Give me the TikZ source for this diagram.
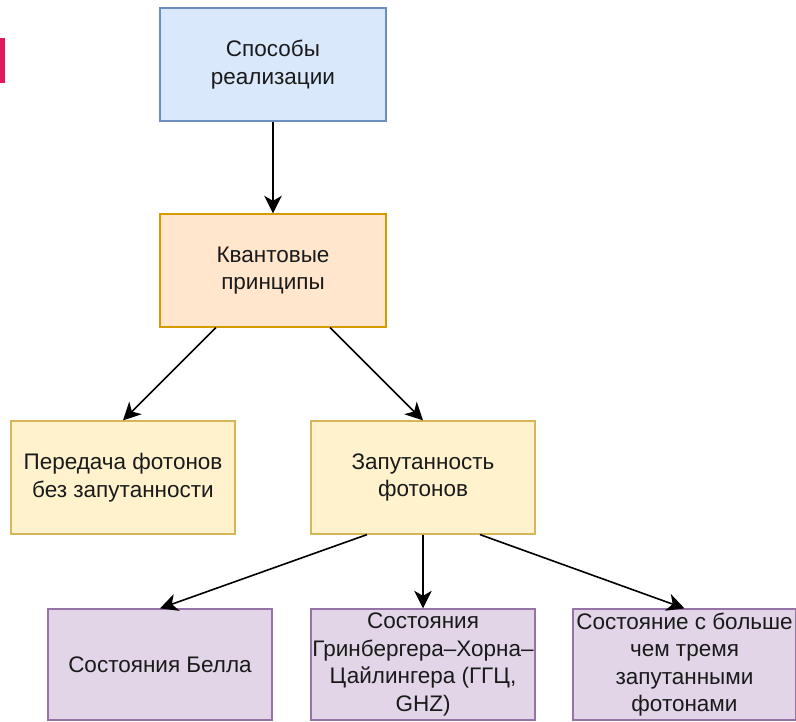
\documentclass[tikz,border=0pt]{standalone}
\usepackage{fontspec}
\setmainfont{Liberation Sans}
\usetikzlibrary{arrows.meta}
\definecolor{blueF}{HTML}{DAE8FC}\definecolor{blueD}{HTML}{6C8EBF}
\definecolor{orangeF}{HTML}{FFE6CC}\definecolor{orangeD}{HTML}{D79B00}
\definecolor{yellowF}{HTML}{FFF2CC}\definecolor{yellowD}{HTML}{D6B656}
\definecolor{purpleF}{HTML}{E1D5E7}\definecolor{purpleD}{HTML}{9673A6}
\definecolor{markred}{HTML}{E0185E}
\definecolor{ink}{HTML}{1A1A1A}
\tikzset{
  box/.style={rectangle,line width=1.2pt,minimum width=224pt,minimum height=113pt,
    inner sep=0pt,align=center,text=ink,
    font=\fontsize{22.5}{27.5}\selectfont},
  bluebox/.style={box,fill=blueF,draw=blueD},
  orangebox/.style={box,fill=orangeF,draw=orangeD},
  yellowbox/.style={box,fill=yellowF,draw=yellowD},
  purplebox/.style={box,fill=purpleF,draw=purpleD,minimum height=111pt},
  arr/.style={line width=1.6pt,-{Stealth[length=6.2mm,width=6.2mm,inset=1.8mm]}}
}
\begin{document}
\begin{tikzpicture}[x=1pt,y=-1pt]
\useasboundingbox (0,0) rectangle (796,722);
% accent mark at the left edge
\fill[markred] (0,38) rectangle (5,83);
% boxes
\node[bluebox,minimum width=226pt] (b1) at (273,64.5) {Способы\\реализации};
\node[orangebox,minimum width=226pt] (b2) at (273,270.5) {Квантовые\\принципы};
\node[yellowbox] (b3) at (123,477.5) {Передача фотонов\\без запутанности};
\node[yellowbox] (b4) at (423,477.5) {Запутанность\\фотонов};
\node[purplebox] (b5) at (160,664.5) {Состояния Белла};
\node[purplebox] (b6) at (423,664.5) {Состояния\\Гринбергера–Хорна–\\Цайлингера (ГГЦ,\\GHZ)};
\node[purplebox,minimum width=223pt] (b7) at (684.5,664.5) {Состояние с больше\\чем тремя\\запутанными\\фотонами};
% connectors
\draw[arr] (b1.south) -- (b2.north);
\draw[arr] ([xshift=-57pt]b2.south) -- (b3.north);
\draw[arr] ([xshift=57pt]b2.south) -- (b4.north);
\draw[arr] ([xshift=-56pt]b4.south) -- (b5.north);
\draw[arr] (b4.south) -- (b6.north);
\draw[arr] ([xshift=57pt]b4.south) -- (b7.north);
\end{tikzpicture}
\end{document}
